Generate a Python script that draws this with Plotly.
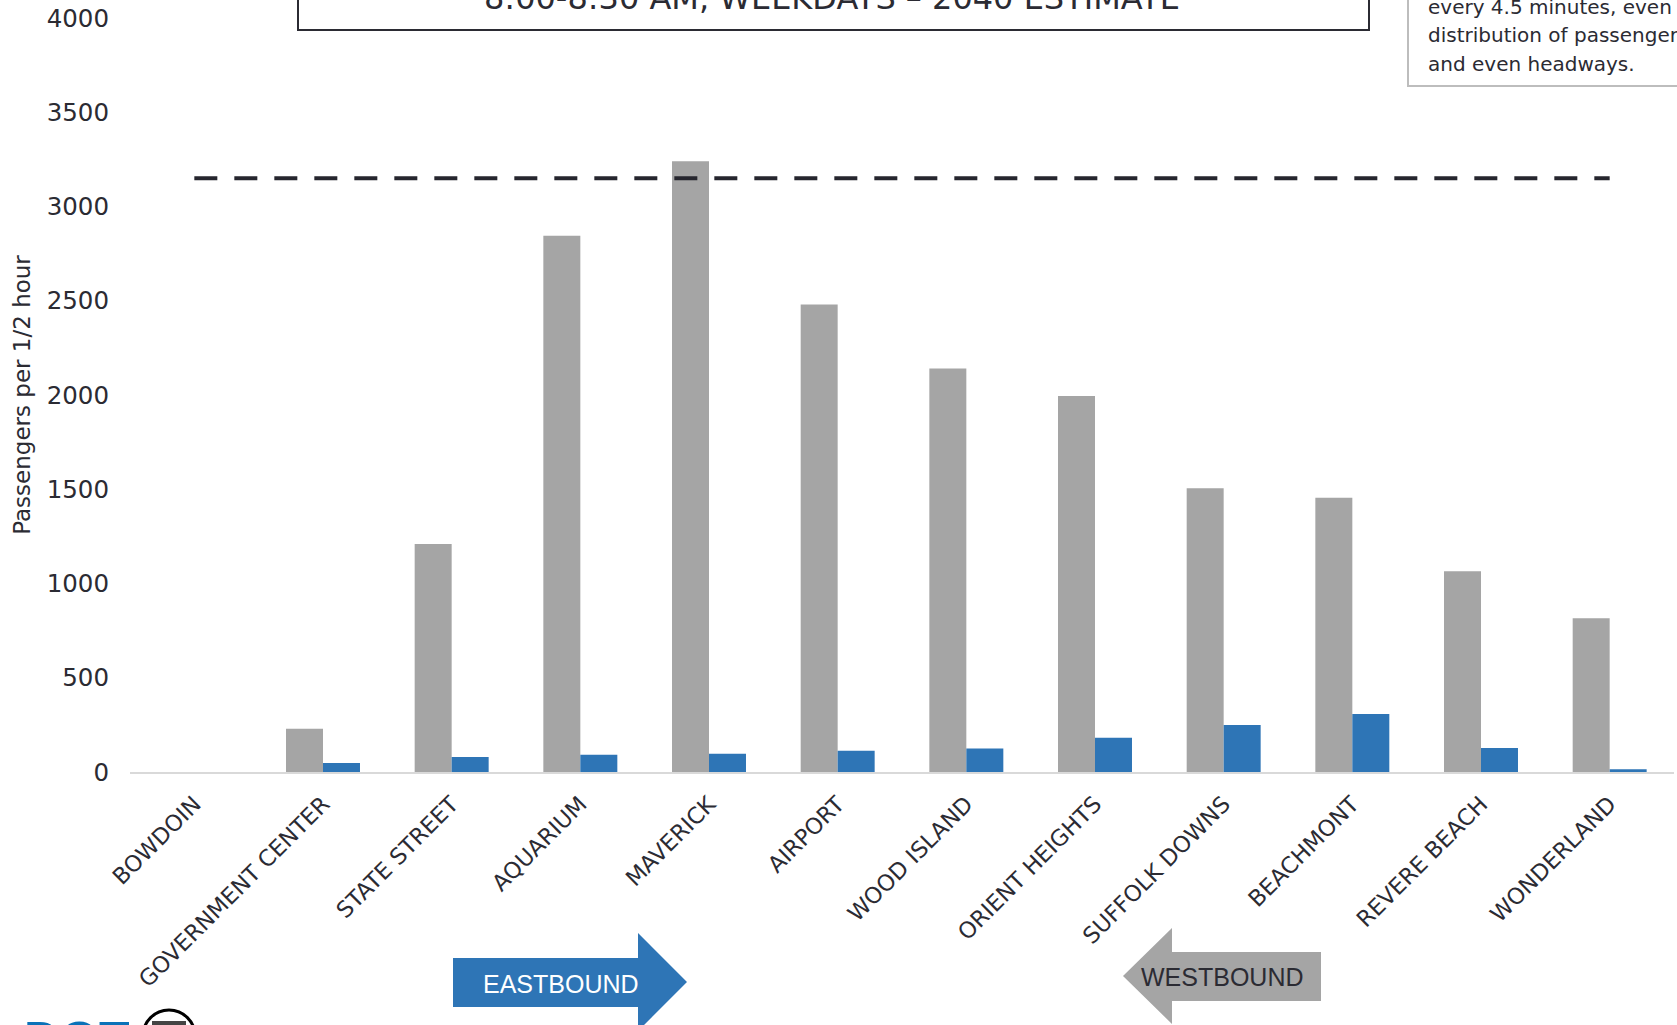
import plotly.graph_objects as go

stations = ["BOWDOIN", "GOVERNMENT CENTER", "STATE STREET", "AQUARIUM", "MAVERICK",
            "AIRPORT", "WOOD ISLAND", "ORIENT HEIGHTS", "SUFFOLK DOWNS", "BEACHMONT",
            "REVERE BEACH", "WONDERLAND"]
westbound = [0, 230, 1210, 2845, 3240, 2480, 2140, 1995, 1505, 1455, 1065, 815]
eastbound = [0, 48, 80, 92, 97, 113, 125, 182, 250, 308, 127, 14]
capacity = 3150
y_ticks = [0, 500, 1000, 1500, 2000, 2500, 3000, 3500, 4000]

title_text = "8:00-8:30 AM, WEEKDAYS – 2040 ESTIMATE"
note_lines = ["every 4.5 minutes, even", "distribution of passengers", "and even headways."]

W, H = 1677, 1025
L, R, T, B = 130, 1674, 18, 772
PW, PH = R - L, B - T

def px(x):
    return (x - L) / PW

def py(y):
    return (B - y) / PH

FONT = "DejaVu Sans"
TXT = "#2b2b33"

fig = go.Figure()
fig.add_trace(go.Bar(x=stations, y=westbound, name="Westbound",
                     marker=dict(color="#a5a5a5", line=dict(width=0))))
fig.add_trace(go.Bar(x=stations, y=eastbound, name="Eastbound",
                     marker=dict(color="#2e75b6", line=dict(width=0))))
fig.add_trace(go.Scatter(x=[stations[0], stations[-1]], y=[capacity, capacity], mode="lines",
                         line=dict(color="#26262e", width=4, dash="23px,17px"), name="Capacity"))

fig.update_layout(
    width=W, height=H,
    margin=dict(l=L, r=W - R, t=T, b=H - B, pad=0),
    plot_bgcolor="white", paper_bgcolor="white",
    barmode="group", bargap=0.425, bargroupgap=0,
    showlegend=False,
    font=dict(family=FONT, color=TXT),
)
fig.update_xaxes(showline=True, linecolor="#d9d9d9", linewidth=2, showgrid=False,
                 tickangle=-45, tickfont=dict(size=22.5, color=TXT, family=FONT), ticks="",
                 ticklabelstandoff=8)
fig.update_yaxes(range=[0, 4000], tickvals=y_ticks, showgrid=False, zeroline=False,
                 showline=False, ticks="", tickfont=dict(size=24.5, color=TXT, family=FONT),
                 ticklabelstandoff=20,
                 title=dict(text="Passengers per 1/2 hour", font=dict(size=23, color=TXT, family=FONT),
                            standoff=9))

shapes = []
annotations = []

# title box (cut by the top edge)
shapes.append(dict(type="rect", xref="paper", yref="paper", x0=px(298), x1=px(1369), y0=py(30), y1=py(-60),
                   line=dict(color="#2b2b33", width=2), fillcolor="rgba(0,0,0,0)"))
annotations.append(dict(xref="paper", yref="paper", x=px(832), y=py(-2), text=title_text, showarrow=False,
                        xanchor="center", yanchor="middle", font=dict(size=32, color=TXT, family=FONT)))

# note box (cut by top/right edges)
shapes.append(dict(type="rect", xref="paper", yref="paper", x0=px(1408), x1=px(1760), y0=py(86), y1=py(-80),
                   line=dict(color="#bdbdbd", width=2), fillcolor="white"))
for i, ln in enumerate(note_lines):
    annotations.append(dict(xref="paper", yref="paper", x=px(1426), y=py(7 + 28.5 * i), text=ln,
                            showarrow=False, xanchor="left", yanchor="middle",
                            font=dict(size=20, color=TXT, family=FONT)))

def poly(pts):
    return "M " + " L ".join(f"{px(x):.5f},{py(y):.5f}" for x, y in pts) + " Z"

# eastbound arrow
shapes.append(dict(type="path", xref="paper", yref="paper", layer="above",
                   path=poly([(453, 958), (638, 958), (638, 933), (687, 982), (638, 1031), (638, 1007), (453, 1007)]),
                   fillcolor="#2e75b6", line=dict(width=0)))
annotations.append(dict(xref="paper", yref="paper", x=px(561), y=py(984), text="EASTBOUND", showarrow=False,
                        xanchor="center", yanchor="middle",
                        font=dict(size=25, color="white", family="Liberation Sans")))
# westbound arrow
shapes.append(dict(type="path", xref="paper", yref="paper", layer="above",
                   path=poly([(1123, 976), (1172, 928), (1172, 952), (1321, 952), (1321, 1001), (1172, 1001), (1172, 1024)]),
                   fillcolor="#a5a5a5", line=dict(width=0)))
annotations.append(dict(xref="paper", yref="paper", x=px(1222), y=py(977), text="WESTBOUND", showarrow=False,
                        xanchor="center", yanchor="middle",
                        font=dict(size=25, color=TXT, family="Liberation Sans")))

# logo fragment at bottom-left
annotations.append(dict(xref="paper", yref="paper", x=px(22), y=py(1010), text="<b>DOT</b>", showarrow=False,
                        xanchor="left", yanchor="top",
                        font=dict(size=50, color="#0a72b8", family="Liberation Sans")))
shapes.append(dict(type="circle", xref="paper", yref="paper", x0=px(143), x1=px(195), y0=py(1010), y1=py(1062),
                   line=dict(color="black", width=3), fillcolor="white"))
shapes.append(dict(type="rect", xref="paper", yref="paper", x0=px(152), x1=px(186), y0=py(1021), y1=py(1026),
                   line=dict(width=0), fillcolor="#444"))

fig.update_layout(shapes=shapes, annotations=annotations)
fig.write_html("out.html", config={"displayModeBar": False},
               post_script="document.body.style.margin='0';")
